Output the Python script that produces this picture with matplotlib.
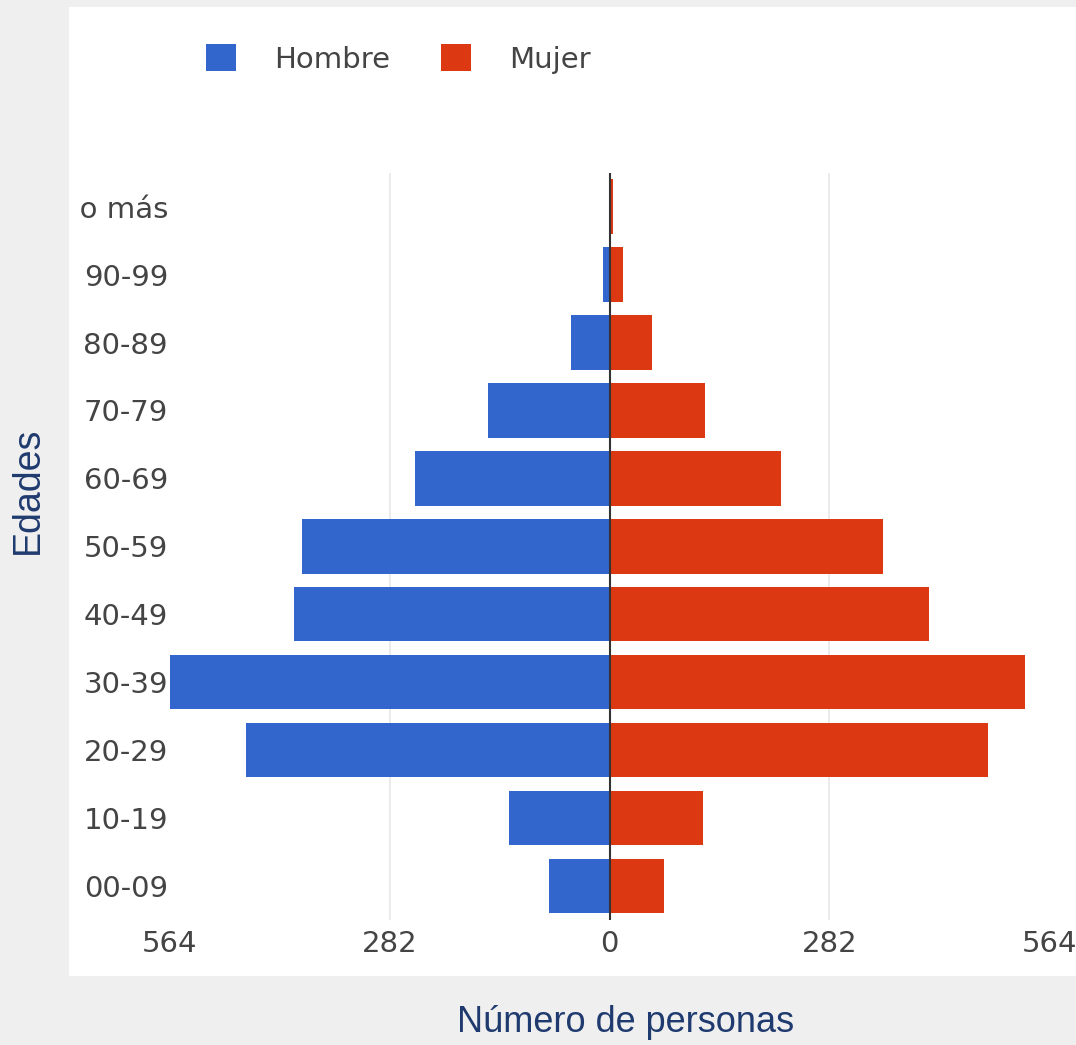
import matplotlib
matplotlib.use("Agg")
import matplotlib.pyplot as plt
from matplotlib.patches import Rectangle, Patch
import numpy as np

# Datos de la pirámide
edades = ['00-09', '10-19', '20-29', '30-39', '40-49', '50-59',
          '60-69', '70-79', '80-89', '90-99', '100 o más']
hombre = [78, 129, 466, 564, 405, 394, 250, 156, 49, 8, 0]
mujer = [70, 120, 486, 533, 410, 351, 220, 123, 54, 17, 4]
ticks_x = [-564, -282, 0, 282, 564]

AZUL = '#3366cc'
ROJO = '#dc3912'
GRIS_TEXTO = '#444444'
NAVY = '#1f3a6e'

W, H = 1076, 1045
fig = plt.figure(figsize=(W / 100, H / 100), dpi=100)
fig.patch.set_facecolor('#efefef')

# panel blanco del gráfico
panel = Rectangle((69 / W, 1 - 976 / H), 1 - 69 / W, (976 - 7) / H,
                  transform=fig.transFigure, facecolor='white',
                  edgecolor='none', zorder=-1)
fig.patches.append(panel)

ax = fig.add_axes([170 / W, 1 - 920 / H, (1049 - 170) / W, (920 - 172.7) / H])
ax.set_facecolor('none')

y = np.arange(len(edades))
ax.barh(y, -np.array(hombre), height=0.8, color=AZUL, label='Hombre', zorder=2)
ax.barh(y, mujer, height=0.8, color=ROJO, label='Mujer', zorder=2)

ax.set_xlim(-564, 564)
ax.set_ylim(-0.5, len(edades) - 0.5)

# líneas de la cuadrícula y eje cero
for t in ticks_x:
    if t == 0:
        ax.axvline(0, color='#333333', lw=1.5, zorder=3)
    elif abs(t) != 564:
        ax.axvline(t, color='#e8e8e8', lw=1.2, zorder=1)

ax.set_xticks(ticks_x)
ax.set_xticklabels([str(abs(t)) for t in ticks_x])
ax.set_yticks(y)
ax.set_yticklabels(edades)
ax.tick_params(axis='both', length=0, labelsize=21, labelcolor=GRIS_TEXTO)
ax.tick_params(axis='x', pad=7)
ax.tick_params(axis='y', pad=1.5)
for s in ax.spines.values():
    s.set_visible(False)

# franja gris a la izquierda (recorta la etiqueta "100 o más" como en el original)
tapa = Rectangle((0, 0), 69 / W, 1, transform=fig.transFigure,
                 facecolor='#efefef', edgecolor='none', zorder=5)
fig.patches.append(tapa)

fig.text(28 / W, 1 - 490 / H, 'Edades', rotation=90, ha='center', va='center',
         fontsize=27, color=NAVY, family='Liberation Sans', zorder=6)
fig.text(626 / W, 1 - 1022 / H, 'Número de personas', ha='center', va='center',
         fontsize=26, color=NAVY, family='Liberation Sans', zorder=6)

handles = [Patch(facecolor=AZUL, label='Hombre'), Patch(facecolor=ROJO, label='Mujer')]
leg = fig.legend(handles=handles, loc='center left',
                 bbox_to_anchor=(206 / W, 1 - 59 / H), ncol=2, frameon=False,
                 fontsize=21, handlelength=1.03, handleheight=1.03,
                 handletextpad=1.3, columnspacing=1.75, borderpad=0,
                 borderaxespad=0)
for txt in leg.get_texts():
    txt.set_color(GRIS_TEXTO)

fig.savefig('out.png', dpi=100, facecolor=fig.get_facecolor())
